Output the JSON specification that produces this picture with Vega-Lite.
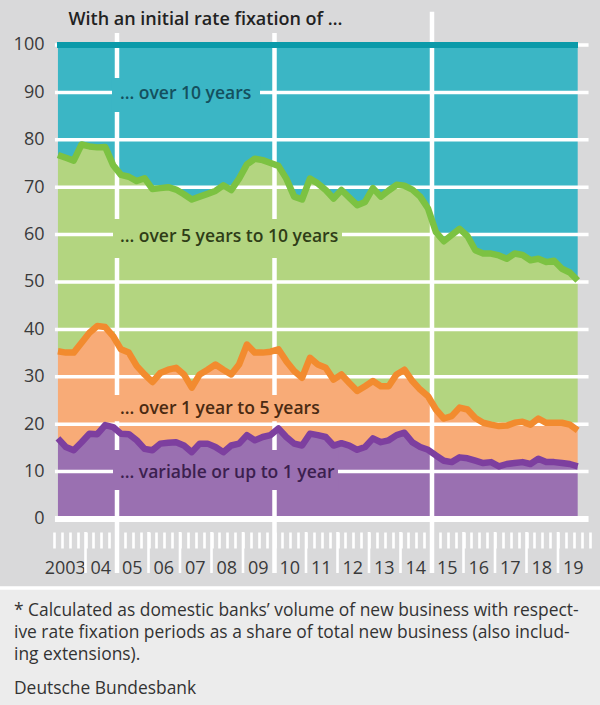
{
  "$schema": "https://vega.github.io/schema/vega-lite/v6.json",
  "width": 600,
  "height": 705,
  "autosize": {"type": "none"},
  "padding": 0,
  "background": "#d9d9da",
  "config": {"view": {"stroke": null}, "font": "Open Sans"},
  "resolve": {"axis": {"x": "independent", "y": "independent"}},
  "datasets": {
    "quarters": [
      {"period": "2003 Q1", "t": 2003.125, "cum_1y": 17.0, "cum_5y": 35.4, "cum_10y": 76.8},
      {"period": "2003 Q2", "t": 2003.375, "cum_1y": 15.2, "cum_5y": 35.1, "cum_10y": 76.2},
      {"period": "2003 Q3", "t": 2003.625, "cum_1y": 14.5, "cum_5y": 35.1, "cum_10y": 75.6},
      {"period": "2003 Q4", "t": 2003.875, "cum_1y": 16.2, "cum_5y": 37.2, "cum_10y": 79.0},
      {"period": "2004 Q1", "t": 2004.125, "cum_1y": 18.0, "cum_5y": 39.3, "cum_10y": 78.6},
      {"period": "2004 Q2", "t": 2004.375, "cum_1y": 17.9, "cum_5y": 40.7, "cum_10y": 78.4},
      {"period": "2004 Q3", "t": 2004.625, "cum_1y": 19.8, "cum_5y": 40.5, "cum_10y": 78.5},
      {"period": "2004 Q4", "t": 2004.875, "cum_1y": 19.4, "cum_5y": 38.6, "cum_10y": 74.7},
      {"period": "2005 Q1", "t": 2005.125, "cum_1y": 18.0, "cum_5y": 35.8, "cum_10y": 72.6},
      {"period": "2005 Q2", "t": 2005.375, "cum_1y": 17.9, "cum_5y": 35.1, "cum_10y": 72.2},
      {"period": "2005 Q3", "t": 2005.625, "cum_1y": 16.6, "cum_5y": 32.3, "cum_10y": 71.3},
      {"period": "2005 Q4", "t": 2005.875, "cum_1y": 14.8, "cum_5y": 30.5, "cum_10y": 71.9},
      {"period": "2006 Q1", "t": 2006.125, "cum_1y": 14.5, "cum_5y": 28.9, "cum_10y": 69.6},
      {"period": "2006 Q2", "t": 2006.375, "cum_1y": 15.9, "cum_5y": 30.8, "cum_10y": 69.8},
      {"period": "2006 Q3", "t": 2006.625, "cum_1y": 16.1, "cum_5y": 31.5, "cum_10y": 70.0},
      {"period": "2006 Q4", "t": 2006.875, "cum_1y": 16.2, "cum_5y": 31.9, "cum_10y": 69.5},
      {"period": "2007 Q1", "t": 2007.125, "cum_1y": 15.5, "cum_5y": 30.5, "cum_10y": 68.5},
      {"period": "2007 Q2", "t": 2007.375, "cum_1y": 14.1, "cum_5y": 27.7, "cum_10y": 67.4},
      {"period": "2007 Q3", "t": 2007.625, "cum_1y": 15.9, "cum_5y": 30.5, "cum_10y": 68.0},
      {"period": "2007 Q4", "t": 2007.875, "cum_1y": 15.9, "cum_5y": 31.5, "cum_10y": 68.6},
      {"period": "2008 Q1", "t": 2008.125, "cum_1y": 15.2, "cum_5y": 32.6, "cum_10y": 69.2},
      {"period": "2008 Q2", "t": 2008.375, "cum_1y": 14.1, "cum_5y": 31.5, "cum_10y": 70.4},
      {"period": "2008 Q3", "t": 2008.625, "cum_1y": 15.5, "cum_5y": 30.5, "cum_10y": 69.4},
      {"period": "2008 Q4", "t": 2008.875, "cum_1y": 15.9, "cum_5y": 32.6, "cum_10y": 71.8},
      {"period": "2009 Q1", "t": 2009.125, "cum_1y": 17.7, "cum_5y": 36.8, "cum_10y": 74.8},
      {"period": "2009 Q2", "t": 2009.375, "cum_1y": 16.6, "cum_5y": 35.1, "cum_10y": 76.0},
      {"period": "2009 Q3", "t": 2009.625, "cum_1y": 17.3, "cum_5y": 35.1, "cum_10y": 75.7},
      {"period": "2009 Q4", "t": 2009.875, "cum_1y": 17.7, "cum_5y": 35.3, "cum_10y": 75.1},
      {"period": "2010 Q1", "t": 2010.125, "cum_1y": 19.1, "cum_5y": 35.8, "cum_10y": 74.5},
      {"period": "2010 Q2", "t": 2010.375, "cum_1y": 17.3, "cum_5y": 33.3, "cum_10y": 71.8},
      {"period": "2010 Q3", "t": 2010.625, "cum_1y": 15.9, "cum_5y": 31.2, "cum_10y": 68.0},
      {"period": "2010 Q4", "t": 2010.875, "cum_1y": 15.5, "cum_5y": 29.8, "cum_10y": 67.4},
      {"period": "2011 Q1", "t": 2011.125, "cum_1y": 18.0, "cum_5y": 34.0, "cum_10y": 71.8},
      {"period": "2011 Q2", "t": 2011.375, "cum_1y": 17.7, "cum_5y": 32.6, "cum_10y": 70.8},
      {"period": "2011 Q3", "t": 2011.625, "cum_1y": 17.3, "cum_5y": 31.9, "cum_10y": 69.4},
      {"period": "2011 Q4", "t": 2011.875, "cum_1y": 15.5, "cum_5y": 29.4, "cum_10y": 67.6},
      {"period": "2012 Q1", "t": 2012.125, "cum_1y": 16.0, "cum_5y": 30.5, "cum_10y": 69.4},
      {"period": "2012 Q2", "t": 2012.375, "cum_1y": 15.5, "cum_5y": 28.7, "cum_10y": 67.8},
      {"period": "2012 Q3", "t": 2012.625, "cum_1y": 14.6, "cum_5y": 27.0, "cum_10y": 66.2},
      {"period": "2012 Q4", "t": 2012.875, "cum_1y": 15.2, "cum_5y": 28.0, "cum_10y": 66.9},
      {"period": "2013 Q1", "t": 2013.125, "cum_1y": 17.0, "cum_5y": 29.1, "cum_10y": 69.8},
      {"period": "2013 Q2", "t": 2013.375, "cum_1y": 16.2, "cum_5y": 28.0, "cum_10y": 68.0},
      {"period": "2013 Q3", "t": 2013.625, "cum_1y": 16.6, "cum_5y": 28.0, "cum_10y": 69.3},
      {"period": "2013 Q4", "t": 2013.875, "cum_1y": 17.7, "cum_5y": 30.5, "cum_10y": 70.5},
      {"period": "2014 Q1", "t": 2014.125, "cum_1y": 18.2, "cum_5y": 31.5, "cum_10y": 70.3},
      {"period": "2014 Q2", "t": 2014.375, "cum_1y": 16.2, "cum_5y": 29.1, "cum_10y": 69.5},
      {"period": "2014 Q3", "t": 2014.625, "cum_1y": 15.2, "cum_5y": 27.3, "cum_10y": 68.0},
      {"period": "2014 Q4", "t": 2014.875, "cum_1y": 14.6, "cum_5y": 25.9, "cum_10y": 65.5},
      {"period": "2015 Q1", "t": 2015.125, "cum_1y": 13.4, "cum_5y": 23.1, "cum_10y": 60.5},
      {"period": "2015 Q2", "t": 2015.375, "cum_1y": 12.3, "cum_5y": 21.2, "cum_10y": 58.6},
      {"period": "2015 Q3", "t": 2015.625, "cum_1y": 12.0, "cum_5y": 21.7, "cum_10y": 59.9},
      {"period": "2015 Q4", "t": 2015.875, "cum_1y": 13.0, "cum_5y": 23.5, "cum_10y": 61.2},
      {"period": "2016 Q1", "t": 2016.125, "cum_1y": 12.8, "cum_5y": 23.1, "cum_10y": 59.7},
      {"period": "2016 Q2", "t": 2016.375, "cum_1y": 12.3, "cum_5y": 21.3, "cum_10y": 56.7},
      {"period": "2016 Q3", "t": 2016.625, "cum_1y": 11.8, "cum_5y": 20.3, "cum_10y": 56.0},
      {"period": "2016 Q4", "t": 2016.875, "cum_1y": 12.0, "cum_5y": 19.9, "cum_10y": 56.0},
      {"period": "2017 Q1", "t": 2017.125, "cum_1y": 11.1, "cum_5y": 19.6, "cum_10y": 55.6},
      {"period": "2017 Q2", "t": 2017.375, "cum_1y": 11.6, "cum_5y": 19.7, "cum_10y": 54.9},
      {"period": "2017 Q3", "t": 2017.625, "cum_1y": 11.8, "cum_5y": 20.3, "cum_10y": 56.0},
      {"period": "2017 Q4", "t": 2017.875, "cum_1y": 12.0, "cum_5y": 20.5, "cum_10y": 55.7},
      {"period": "2018 Q1", "t": 2018.125, "cum_1y": 11.6, "cum_5y": 19.9, "cum_10y": 54.6},
      {"period": "2018 Q2", "t": 2018.375, "cum_1y": 12.7, "cum_5y": 21.2, "cum_10y": 54.9},
      {"period": "2018 Q3", "t": 2018.625, "cum_1y": 12.0, "cum_5y": 20.3, "cum_10y": 54.2},
      {"period": "2018 Q4", "t": 2018.875, "cum_1y": 12.0, "cum_5y": 20.3, "cum_10y": 54.5},
      {"period": "2019 Q1", "t": 2019.125, "cum_1y": 11.8, "cum_5y": 20.3, "cum_10y": 52.8},
      {"period": "2019 Q2", "t": 2019.375, "cum_1y": 11.6, "cum_5y": 19.9, "cum_10y": 52.0},
      {"period": "2019 Q3", "t": 2019.625, "cum_1y": 11.1, "cum_5y": 18.7, "cum_10y": 50.3}
    ],
    "grid": [
      {"level": 10}, {"level": 20}, {"level": 30}, {"level": 40}, {"level": 50},
      {"level": 60}, {"level": 70}, {"level": 80}, {"level": 90}, {"level": 100}
    ],
    "breaks": [{"year": 2005}, {"year": 2010}, {"year": 2015}],
    "years": [
      {"year": 2004}, {"year": 2005}, {"year": 2006}, {"year": 2007}, {"year": 2008}, {"year": 2009}, {"year": 2010}, {"year": 2011},
      {"year": 2012}, {"year": 2013}, {"year": 2014}, {"year": 2015}, {"year": 2016}, {"year": 2017}, {"year": 2018}, {"year": 2019}
    ],
    "one": [{}]
  },
  "layer": [
    {
      "data": {"name": "quarters"},
      "mark": {"type": "area", "color": "#3bb6c5"},
      "encoding": {
        "x": {
          "field": "t", "type": "quantitative",
          "scale": {"domain": [2001.2857, 2020.3333], "nice": false, "zero": false},
          "axis": {
            "orient": "bottom", "offset": -173, "title": null, "domain": false, "grid": false,
            "values": [2003, 2003.25, 2003.5, 2003.75, 2004, 2004.25, 2004.5, 2004.75, 2005, 2005.25, 2005.5, 2005.75, 2006, 2006.25, 2006.5, 2006.75, 2007, 2007.25, 2007.5, 2007.75, 2008, 2008.25, 2008.5, 2008.75, 2009, 2009.25, 2009.5, 2009.75, 2010, 2010.25, 2010.5, 2010.75, 2011, 2011.25, 2011.5, 2011.75, 2012, 2012.25, 2012.5, 2012.75, 2013, 2013.25, 2013.5, 2013.75, 2014, 2014.25, 2014.5, 2014.75, 2015, 2015.25, 2015.5, 2015.75, 2016, 2016.25, 2016.5, 2016.75, 2017, 2017.25, 2017.5, 2017.75, 2018, 2018.25, 2018.5, 2018.75, 2019, 2019.25, 2019.5, 2019.75, 2020],
            "tickColor": "#ffffff", "tickWidth": 2.6, "tickSize": 16,
            "labelExpr": "datum.value % 1 === 0.5 ? (datum.value < 2004 ? '2003' : format(floor(datum.value) % 100, '02d')) : ''",
            "labelPadding": 11, "labelFontSize": 18, "labelColor": "#3a3a3a", "labelFont": "Open Sans",
            "labelOverlap": false, "labelFlush": false, "labelBound": false,
            "labelOffset": {"condition": {"test": "datum.value < 2004", "value": -5}, "value": -1}
          }
        },
        "y": {
          "field": "cum_10y", "type": "quantitative",
          "scale": {"domain": [-39.24, 109.49], "nice": false, "zero": false},
          "axis": {
            "orient": "left", "offset": -54, "title": null, "domain": false, "ticks": false, "grid": false,
            "values": [0, 10, 20, 30, 40, 50, 60, 70, 80, 90, 100],
            "labelPadding": 10, "labelFontSize": 18, "labelColor": "#3a3a3a", "labelFont": "Open Sans"
          }
        },
        "y2": {"datum": 100}
      }
    },
    {
      "data": {"name": "one"},
      "mark": {"type": "rect", "color": "#ececec"},
      "encoding": {
        "x": {"datum": 2000, "type": "quantitative", "axis": null},
        "x2": {"datum": 2022},
        "y": {"datum": -14.56, "type": "quantitative", "axis": null},
        "y2": {"datum": -45}
      }
    },
    {
      "data": {"name": "one"},
      "mark": {"type": "rule", "color": "#ffffff", "strokeWidth": 3.5},
      "encoding": {
        "x": {"datum": 2000, "type": "quantitative", "axis": null},
        "x2": {"datum": 2022},
        "y": {"datum": -14.56, "type": "quantitative", "axis": null}
      }
    },
    {
      "data": {"name": "years"},
      "mark": {"type": "rule", "color": "#ffffff", "strokeWidth": 2.6},
      "encoding": {
        "x": {"field": "year", "type": "quantitative", "axis": null},
        "y": {"datum": -2.74, "type": "quantitative", "axis": null},
        "y2": {"datum": -11.39}
      }
    },
    {
      "data": {"name": "quarters"},
      "mark": {"type": "area", "color": "#b3d580"},
      "encoding": {
        "x": {"field": "t", "type": "quantitative", "axis": null},
        "y": {"field": "cum_10y", "type": "quantitative", "axis": null},
        "y2": {"field": "cum_5y"}
      }
    },
    {
      "data": {"name": "quarters"},
      "mark": {"type": "area", "color": "#f8ab77"},
      "encoding": {
        "x": {"field": "t", "type": "quantitative", "axis": null},
        "y": {"field": "cum_5y", "type": "quantitative", "axis": null},
        "y2": {"field": "cum_1y"}
      }
    },
    {
      "data": {"name": "quarters"},
      "mark": {"type": "area", "color": "#9a70b1"},
      "encoding": {
        "x": {"field": "t", "type": "quantitative", "axis": null},
        "y": {"field": "cum_1y", "type": "quantitative", "axis": null},
        "y2": {"datum": 0}
      }
    },
    {
      "data": {"name": "grid"},
      "mark": {"type": "rule", "color": "#ffffff", "strokeWidth": 3.5},
      "encoding": {
        "y": {"field": "level", "type": "quantitative", "axis": null},
        "x": {"datum": 2003.03, "type": "quantitative", "axis": null},
        "x2": {"datum": 2019.97}
      }
    },
    {
      "data": {"name": "one"},
      "mark": {"type": "rule", "color": "#ffffff", "strokeWidth": 6},
      "encoding": {
        "y": {"datum": 0, "type": "quantitative", "axis": null},
        "x": {"datum": 2003.03, "type": "quantitative", "axis": null},
        "x2": {"datum": 2019.97}
      }
    },
    {
      "data": {"name": "breaks"},
      "mark": {"type": "rule", "color": "#ffffff", "strokeWidth": 4.5},
      "encoding": {
        "x": {"field": "year", "type": "quantitative", "axis": null},
        "y": {"datum": 107, "type": "quantitative", "axis": null},
        "y2": {"datum": -11.39}
      }
    },
    {
      "data": {"name": "one"},
      "mark": {"type": "rect", "color": "#3bb6c5"},
      "encoding": {
        "x": {"datum": 2004.841, "type": "quantitative", "axis": null}, "x2": {"datum": 2009.54},
        "y": {"datum": 93.04, "type": "quantitative", "axis": null}, "y2": {"datum": 85.86}
      }
    },
    {
      "data": {"name": "one"},
      "mark": {"type": "rect", "color": "#b3d580"},
      "encoding": {
        "x": {"datum": 2004.873, "type": "quantitative", "axis": null}, "x2": {"datum": 2012.143},
        "y": {"datum": 63.29, "type": "quantitative", "axis": null}, "y2": {"datum": 55.06}
      }
    },
    {
      "data": {"name": "one"},
      "mark": {"type": "rect", "color": "#f8ab77"},
      "encoding": {
        "x": {"datum": 2004.873, "type": "quantitative", "axis": null}, "x2": {"datum": 2011.508},
        "y": {"datum": 26.16, "type": "quantitative", "axis": null}, "y2": {"datum": 20.6}
      }
    },
    {
      "data": {"name": "one"},
      "mark": {"type": "rect", "color": "#9a70b1"},
      "encoding": {
        "x": {"datum": 2004.873, "type": "quantitative", "axis": null}, "x2": {"datum": 2012.016},
        "y": {"datum": 14.56, "type": "quantitative", "axis": null}, "y2": {"datum": 6.12}
      }
    },
    {
      "data": {"name": "one"},
      "mark": {"type": "text", "align": "left", "baseline": "alphabetic", "font": "Open Sans", "fontSize": 17.5, "fontWeight": 600, "color": "#14505e"},
      "encoding": {
        "x": {"datum": 2005.095, "type": "quantitative", "axis": null},
        "y": {"datum": 88.54, "type": "quantitative", "axis": null},
        "text": {"value": "… over 10 years"}
      }
    },
    {
      "data": {"name": "one"},
      "mark": {"type": "text", "align": "left", "baseline": "alphabetic", "font": "Open Sans", "fontSize": 17.5, "fontWeight": 600, "color": "#2f3d17"},
      "encoding": {
        "x": {"datum": 2005.095, "type": "quantitative", "axis": null},
        "y": {"datum": 58.5, "type": "quantitative", "axis": null},
        "text": {"value": "… over 5 years to 10 years"}
      }
    },
    {
      "data": {"name": "one"},
      "mark": {"type": "text", "align": "left", "baseline": "alphabetic", "font": "Open Sans", "fontSize": 17.5, "fontWeight": 600, "color": "#4a2a12"},
      "encoding": {
        "x": {"datum": 2005.095, "type": "quantitative", "axis": null},
        "y": {"datum": 22.15, "type": "quantitative", "axis": null},
        "text": {"value": "… over 1 year to 5 years"}
      }
    },
    {
      "data": {"name": "one"},
      "mark": {"type": "text", "align": "left", "baseline": "alphabetic", "font": "Open Sans", "fontSize": 17.5, "fontWeight": 600, "color": "#3c1f4f"},
      "encoding": {
        "x": {"datum": 2005.095, "type": "quantitative", "axis": null},
        "y": {"datum": 8.65, "type": "quantitative", "axis": null},
        "text": {"value": "… variable or up to 1 year"}
      }
    },
    {
      "data": {"name": "one"},
      "mark": {"type": "rect", "color": "#d9d9da"},
      "encoding": {
        "x": {"datum": 2003.254, "type": "quantitative", "axis": null}, "x2": {"datum": 2012.016},
        "y": {"datum": 110, "type": "quantitative", "axis": null}, "y2": {"datum": 102.53}
      }
    },
    {
      "data": {"name": "one"},
      "mark": {"type": "text", "align": "left", "baseline": "alphabetic", "font": "Open Sans", "fontSize": 18, "fontWeight": 600, "color": "#222222"},
      "encoding": {
        "x": {"datum": 2003.46, "type": "quantitative", "axis": null},
        "y": {"datum": 104.22, "type": "quantitative", "axis": null},
        "text": {"value": "With an initial rate fixation of …"}
      }
    },
    {
      "data": {"name": "quarters"},
      "mark": {"type": "rule", "color": "#0b9aa9", "strokeWidth": 6},
      "encoding": {
        "x": {"datum": 2003.125, "type": "quantitative", "axis": null},
        "x2": {"datum": 2019.625},
        "y": {"datum": 100, "type": "quantitative", "axis": null}
      }
    },
    {
      "data": {"name": "quarters"},
      "mark": {"type": "line", "color": "#7cc242", "strokeWidth": 6.5, "strokeJoin": "round"},
      "encoding": {
        "x": {"field": "t", "type": "quantitative", "axis": null},
        "y": {"field": "cum_10y", "type": "quantitative", "axis": null}
      }
    },
    {
      "data": {"name": "quarters"},
      "mark": {"type": "line", "color": "#f28b2f", "strokeWidth": 6.5, "strokeJoin": "round"},
      "encoding": {
        "x": {"field": "t", "type": "quantitative", "axis": null},
        "y": {"field": "cum_5y", "type": "quantitative", "axis": null}
      }
    },
    {
      "data": {"name": "quarters"},
      "mark": {"type": "line", "color": "#7d3f9f", "strokeWidth": 6.5, "strokeJoin": "round"},
      "encoding": {
        "x": {"field": "t", "type": "quantitative", "axis": null},
        "y": {"field": "cum_1y", "type": "quantitative", "axis": null}
      }
    },
    {
      "data": {"name": "one"},
      "mark": {"type": "text", "align": "left", "baseline": "alphabetic", "font": "Open Sans", "fontSize": 17.4, "lineHeight": 22, "color": "#333333"},
      "encoding": {
        "x": {"datum": 2001.73, "type": "quantitative", "axis": null},
        "y": {"datum": -20.46, "type": "quantitative", "axis": null},
        "text": {"value": ["* Calculated as domestic banks’ volume of new business with respect-", "ive rate fixation periods as a share of total new business (also includ-", "ing extensions)."]}
      }
    },
    {
      "data": {"name": "one"},
      "mark": {"type": "text", "align": "left", "baseline": "alphabetic", "font": "Open Sans", "fontSize": 17.4, "color": "#333333"},
      "encoding": {
        "x": {"datum": 2001.73, "type": "quantitative", "axis": null},
        "y": {"datum": -36.92, "type": "quantitative", "axis": null},
        "text": {"value": "Deutsche Bundesbank"}
      }
    }
  ]
}
